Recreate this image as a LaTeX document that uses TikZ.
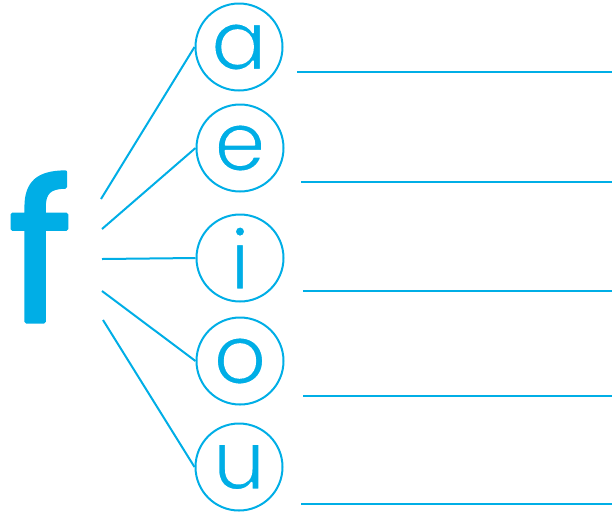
\documentclass[tikz,border=0pt]{standalone}
\usepackage{fontspec}
\setmainfont{Poppins}
\definecolor{cy}{RGB}{0,174,230}
\newcommand{\roundedtext}[1]{\special{pdf:literal 2 Tr 3.5 w 1 j 1 J}#1\special{pdf:literal 0 Tr}}
\newcommand{\thintext}[1]{\special{pdf:literal 2 Tr 1.8 w 1 j 1 1 1 RG}#1\special{pdf:literal 0 Tr}}
\begin{document}
\begin{tikzpicture}[x=1pt,y=-1pt,
  vowel/.style={draw=cy,line width=2pt,circle,minimum size=87pt,inner sep=0pt,text=cy,font=\fontsize{83}{83}\selectfont},
  conn/.style={draw=cy,line width=2pt},
  bigf/.style={text=cy,inner sep=0pt,font=\fontsize{196}{196}\selectfont}]
\useasboundingbox (0,0) rectangle (612,515);
\node[bigf] (f) at (40,247) {\roundedtext{f}};
\node[vowel] (a) at (239,47) {\thintext{a}};
\node[vowel] (e) at (240,148) {\thintext{e}};
\node[vowel] (i) at (240,258) {\thintext{i}};
\node[vowel] (o) at (240,361) {\thintext{o}};
\node[vowel] (u) at (239,467) {\thintext{u}};
\coordinate (fa) at (101,199);
\coordinate (fe) at (102,229);
\coordinate (fi) at (102,259);
\coordinate (fo) at (102,291);
\coordinate (fu) at (103,320);
\draw[conn] (fa) -- (a.west);
\draw[conn] (fe) -- (e.west);
\draw[conn] (fi) -- (i.west);
\draw[conn] (fo) -- (o.west);
\draw[conn] (fu) -- (u.west);
\coordinate (la) at (297,72);  \coordinate (ra) at (612,72);
\coordinate (le) at (301,182); \coordinate (re) at (612,182);
\coordinate (li) at (303,291); \coordinate (ri) at (612,291);
\coordinate (lo) at (303,396); \coordinate (ro) at (612,396);
\coordinate (lu) at (301,504); \coordinate (ru) at (612,504);
\draw[conn] (la) -- (ra);
\draw[conn] (le) -- (re);
\draw[conn] (li) -- (ri);
\draw[conn] (lo) -- (ro);
\draw[conn] (lu) -- (ru);
\end{tikzpicture}
\end{document}
